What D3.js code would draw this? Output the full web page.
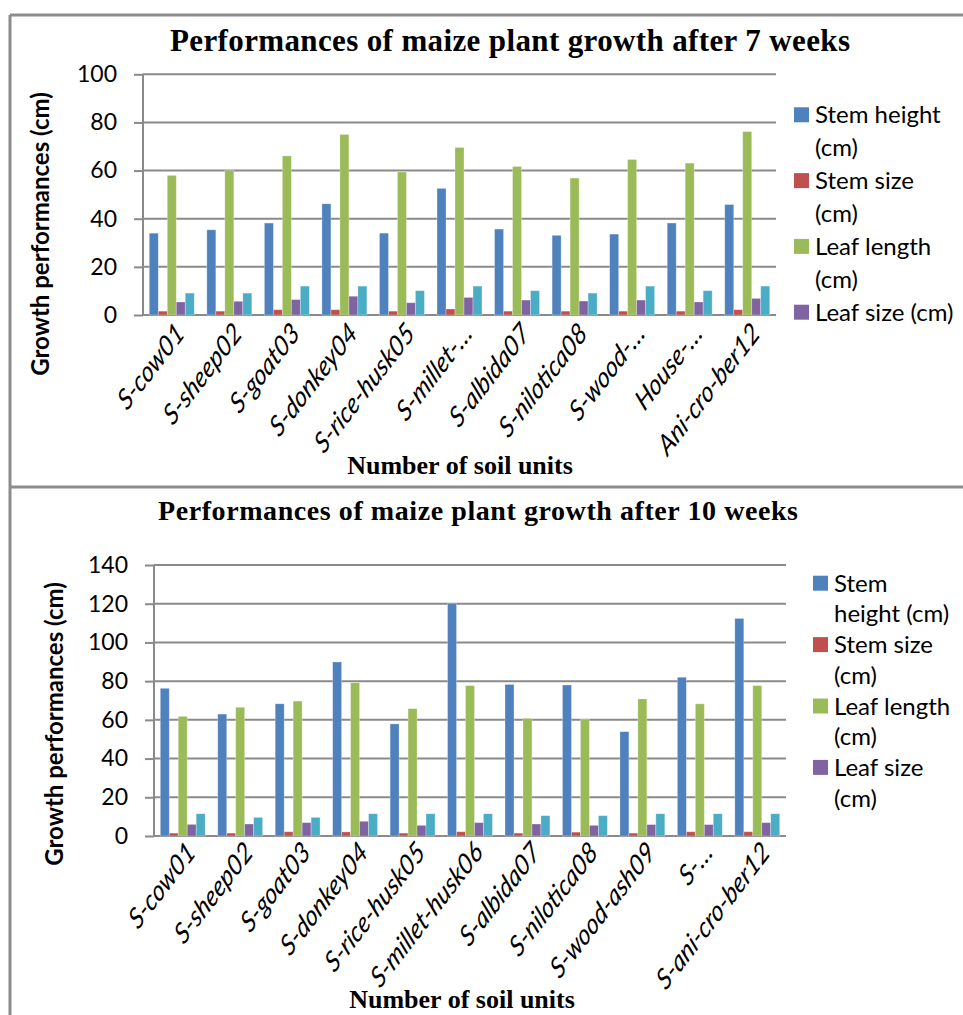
<!DOCTYPE html>
<html>
<head>
<meta charset="utf-8">
<script src="https://cdn.jsdelivr.net/npm/d3@7"></script>
<style>
  body { margin: 0; background: #fff; }
  svg { display: block; }
</style>
</head>
<body>
<svg id="chart" width="963" height="1015"></svg>
<script>
// ---- Data: maize growth per soil unit, after 7 and after 10 weeks ----
const categories7 = ["S-cow01", "S-sheep02", "S-goat03", "S-donkey04", "S-rice-husk05", "S-millet-…",
  "S-albida07", "S-nilotica08", "S-wood-…", "House-…", "Ani-cro-ber12"];
const stemHeight7 = [34.0, 35.4, 38.2, 46.2, 34.0, 52.6, 35.7, 33.1, 33.6, 38.2, 45.9];
const stemSize7   = [1.6, 1.6, 2.2, 2.2, 1.6, 2.5, 1.6, 1.6, 1.6, 1.6, 2.2];
const leafLength7 = [58.0, 60.0, 66.1, 75.0, 59.4, 69.6, 61.7, 56.9, 64.6, 63.1, 76.2];
const leafSize7   = [5.4, 5.7, 6.4, 7.8, 5.1, 7.3, 6.2, 5.8, 6.2, 5.4, 6.9];
const leafWidth7  = [9.1, 9.1, 12.0, 12.0, 10.1, 12.0, 10.1, 9.1, 12.0, 10.1, 12.0];

const categories10 = ["S-cow01", "S-sheep02", "S-goat03", "S-donkey04", "S-rice-husk05", "S-millet-husk06",
  "S-albida07", "S-nilotica08", "S-wood-ash09", "S-…", "S-ani-cro-ber12"];
const stemHeight10 = [76.3, 63.0, 68.3, 89.9, 57.9, 120.0, 78.3, 78.0, 53.9, 82.0, 112.4];
const stemSize10   = [1.5, 1.5, 2.2, 2.1, 1.5, 2.2, 1.5, 2.0, 1.5, 2.2, 2.2];
const leafLength10 = [61.8, 66.5, 69.7, 79.2, 65.8, 77.7, 60.8, 60.3, 70.8, 68.3, 77.7];
const leafSize10   = [6.0, 6.2, 6.9, 7.6, 5.5, 6.9, 6.2, 5.5, 5.9, 5.9, 6.9];
const leafWidth10  = [11.5, 9.6, 9.6, 11.5, 11.5, 11.5, 10.5, 10.5, 11.5, 11.5, 11.5];

const yTicks7  = [0, 20, 40, 60, 80, 100];
const yTicks10 = [0, 20, 40, 60, 80, 100, 120, 140];

// legend text, already wrapped into lines as it is laid out
const legend7  = [["Stem height", "(cm)"], ["Stem size", "(cm)"], ["Leaf length", "(cm)"], ["Leaf size (cm)"]];
const legend10 = [["Stem", "height (cm)"], ["Stem size", "(cm)"], ["Leaf length", "(cm)"], ["Leaf size", "(cm)"]];

const seriesColors = ["#4F81BD", "#C0504D", "#9BBB59", "#8064A2", "#4BACC6"];

const SANS = "Lato, 'Open Sans', sans-serif";
const SERIF = "'Liberation Serif', 'Times New Roman', serif";
const GRID = "#8a8a8a";

const svg = d3.select("#chart");
svg.append("rect").attr("width", 963).attr("height", 1015).attr("fill", "#fff");

function drawPanel(o) {
  const g = svg.append("g");
  const { x0, x1, y0, y1 } = o.plot;
  const keys = d3.range(o.series.length);

  const x = d3.scaleBand().domain(o.categories).range([x0, x1]).padding(0);
  const xs = d3.scaleBand().domain(keys).range([0, x.bandwidth()]).paddingInner(0).paddingOuter(0.7);
  const y = d3.scaleLinear().domain([0, o.yMax]).range([y1, y0]);

  // title
  g.append("text")
    .attr("x", o.titleX).attr("y", o.titleY)
    .attr("text-anchor", "middle")
    .attr("font-family", SERIF).attr("font-weight", "bold")
    .attr("font-size", o.titleSize)
    .attr("textLength", o.titleWidth).attr("lengthAdjust", "spacing")
    .text(o.title);

  // value axis: tick stubs and labels
  const yAxis = d3.axisLeft(y).tickValues(o.ticks).tickSize(9).tickPadding(17);
  const ya = g.append("g").attr("transform", `translate(${x0},0)`).call(yAxis);
  ya.select(".domain").remove();
  ya.selectAll(".tick line").attr("stroke", GRID).attr("stroke-width", 2);
  ya.selectAll(".tick text")
    .attr("font-family", SANS).attr("font-size", 23).attr("fill", "#000");
  // horizontal gridlines
  g.append("g").selectAll("line").data(o.ticks).join("line")
    .attr("x1", x0).attr("x2", x1)
    .attr("y1", d => y(d)).attr("y2", d => y(d))
    .attr("stroke", GRID).attr("stroke-width", 2);
  // vertical axis line
  g.append("line").attr("x1", x0).attr("x2", x0).attr("y1", y(o.yMax)).attr("y2", y(0))
    .attr("stroke", GRID).attr("stroke-width", 2);

  // bars
  const groups = g.append("g").selectAll("g").data(o.categories).join("g")
    .attr("transform", d => `translate(${x(d)},0)`);
  groups.selectAll("rect")
    .data((d, i) => keys.map(k => ({ k, v: o.series[k][i] })))
    .join("rect")
    .attr("x", d => xs(d.k))
    .attr("width", xs.bandwidth())
    .attr("y", d => y(d.v))
    .attr("height", d => y(0) - y(d.v))
    .attr("fill", d => seriesColors[d.k])
    .attr("stroke", "#fff").attr("stroke-opacity", 0.35).attr("stroke-width", 0.8);

  // category labels, slanted
  const xa = g.append("g").attr("transform", `translate(0,${y1})`)
    .call(d3.axisBottom(x).tickSize(0));
  xa.select(".domain").remove();
  xa.selectAll(".tick text")
    .attr("x", 0).attr("y", 0).attr("dy", 0)
    .attr("text-anchor", "end")
    .attr("transform", `translate(${o.labelDx},${o.labelDy}) scale(1,1.3) rotate(-45)`)
    .attr("font-family", SANS).attr("font-style", "italic")
    .attr("font-size", o.labelSize).attr("fill", "#000");

  // axis titles
  g.append("text")
    .attr("transform", `translate(${o.yTitleX},${o.yTitleY}) rotate(-90)`)
    .attr("text-anchor", "middle")
    .attr("font-family", SANS).attr("font-weight", "bold").attr("font-size", o.yTitleSize)
    .text("Growth performances (cm)");
  g.append("text")
    .attr("x", o.xTitleX).attr("y", o.xTitleY)
    .attr("text-anchor", "middle")
    .attr("font-family", SERIF).attr("font-weight", "bold").attr("font-size", 26)
    .text("Number of soil units");

  // legend (only the four named series are listed)
  let line = 0;
  o.legend.forEach((lines, i) => {
    const base = o.legendY + line * o.legendStep;
    g.append("rect")
      .attr("x", o.legendX).attr("y", base - 16)
      .attr("width", 15).attr("height", 15)
      .attr("fill", seriesColors[i]);
    lines.forEach((t, j) => {
      g.append("text")
        .attr("x", o.legendX + 21).attr("y", base + j * o.legendStep)
        .attr("font-family", SANS).attr("font-size", 24).attr("fill", "#000")
        .text(t);
    });
    line += lines.length;
  });
}

drawPanel({
  title: "Performances of maize plant growth after 7 weeks",
  titleX: 510, titleY: 51, titleSize: 31, titleWidth: 680,
  categories: categories7,
  series: [stemHeight7, stemSize7, leafLength7, leafSize7, leafWidth7],
  yMax: 100, ticks: yTicks7,
  plot: { x0: 143, x1: 776, y0: 74.3, y1: 315 },
  labelDx: 14, labelDy: 20, labelSize: 22.5,
  yTitleX: 49, yTitleY: 234, yTitleSize: 24,
  xTitleX: 460, xTitleY: 474,
  legend: legend7, legendX: 794, legendY: 123.3, legendStep: 32.9
});

drawPanel({
  title: "Performances of maize plant growth after 10 weeks",
  titleX: 478, titleY: 520, titleSize: 28, titleWidth: 640,
  categories: categories10,
  series: [stemHeight10, stemSize10, leafLength10, leafSize10, leafWidth10],
  yMax: 140, ticks: yTicks10,
  plot: { x0: 154, x1: 786, y0: 565, y1: 836 },
  labelDx: 14, labelDy: 18, labelSize: 22.5,
  yTitleX: 63, yTitleY: 724, yTitleSize: 24,
  xTitleX: 462, xTitleY: 1008,
  legend: legend10, legendX: 813, legendY: 591.7, legendStep: 30.7
});

// panel frames
const frame = svg.append("g").attr("stroke", "#8c8c8c").attr("stroke-width", 3).attr("fill", "none");
frame.append("line").attr("x1", 10).attr("x2", 10).attr("y1", 15).attr("y2", 1015);
frame.append("line").attr("x1", 10).attr("x2", 963).attr("y1", 15).attr("y2", 15);
frame.append("line").attr("x1", 10).attr("x2", 963).attr("y1", 487).attr("y2", 487);
</script>
</body>
</html>
